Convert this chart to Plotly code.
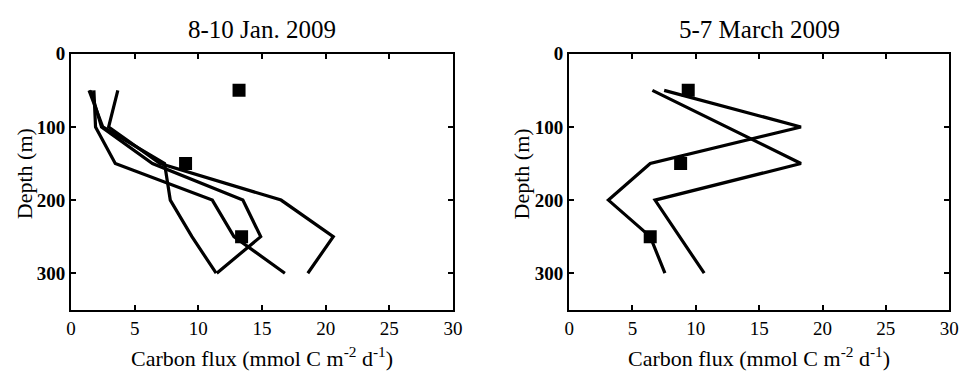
import plotly.graph_objects as go

depths = [50, 100, 150, 200, 250, 300]

# Panel 1: 8-10 Jan. 2009 (model profiles)
jan_line1 = [1.42, 2.5, 7.35, 7.8, 9.5, 11.4]
jan_line2 = [1.55, 2.4, 6.4, 13.5, 14.9, 11.45]
jan_line3 = [1.8, 1.93, 3.48, 11.1, 12.8, 16.8]
jan_line4 = [3.68, 2.96, 7.0, 16.5, 20.6, 18.6]
jan_obs_depth = [50, 150, 250]
jan_obs_flux = [13.2, 9.0, 13.4]

# Panel 2: 5-7 March 2009
mar_line1 = [7.5, 18.3, 6.4, 3.1, 6.4, 7.56]
mar_line2 = [6.57, 12.4, 18.3, 6.78, 8.7, 10.66]
mar_obs_depth = [50, 150, 250]
mar_obs_flux = [9.4, 8.8, 6.4]

titles = ["8-10 Jan. 2009", "5-7 March 2009"]
xlabel = "Carbon flux (mmol C m<sup>-2</sup> d<sup>-1</sup>)"
ylabel = "Depth (m)"
xticks = [0, 5, 10, 15, 20, 25, 30]
yticks = [0, 100, 200, 300]

W, H = 971, 375
SERIF = "Liberation Serif, Times New Roman, serif"
line_style = dict(color="black", width=3.2)
marker_style = dict(symbol="square", size=13, color="black")

fig = go.Figure()
for prof in [jan_line1, jan_line2, jan_line3, jan_line4]:
    fig.add_trace(go.Scatter(x=prof, y=depths, mode="lines", line=line_style,
                             xaxis="x", yaxis="y", showlegend=False))
fig.add_trace(go.Scatter(x=jan_obs_flux, y=jan_obs_depth, mode="markers",
                         marker=marker_style, xaxis="x", yaxis="y", showlegend=False))
for prof in [mar_line1, mar_line2]:
    fig.add_trace(go.Scatter(x=prof, y=depths, mode="lines", line=line_style,
                             xaxis="x2", yaxis="y2", showlegend=False))
fig.add_trace(go.Scatter(x=mar_obs_flux, y=mar_obs_depth, mode="markers",
                         marker=marker_style, xaxis="x2", yaxis="y2", showlegend=False))

# pixel geometry
left_dom = [67 / W, 455 / W]
right_dom = [573 / W, 959 / W]
ydom = [1 - 308 / H, 1 - 45 / H]

common_x = dict(range=[0, 30], tickvals=xticks, ticks="inside", ticklen=5,
                tickwidth=1.5, tickcolor="black", showline=True, linecolor="black",
                linewidth=2, mirror="ticks", showgrid=False, zeroline=False,
                tickfont=dict(family=SERIF, size=19, color="black"))
common_y = dict(range=[350, 0], tickvals=yticks, ticks="inside", ticklen=5,
                tickwidth=1.5, tickcolor="black", showline=True, linecolor="black",
                linewidth=2, mirror="ticks", showgrid=False, zeroline=False,
                tickfont=dict(family=SERIF, size=19, color="black", weight="bold"))

fig.update_layout(
    width=W, height=H,
    margin=dict(l=0, r=0, t=0, b=0),
    paper_bgcolor="white", plot_bgcolor="white",
    xaxis=dict(domain=left_dom, anchor="y", **common_x),
    yaxis=dict(domain=ydom, anchor="x", **common_y),
    xaxis2=dict(domain=right_dom, anchor="y2", **common_x),
    yaxis2=dict(domain=ydom, anchor="x2", **common_y),
)

ann = []
centers = [(67 + 455) / 2, (573 + 959) / 2]
ylab_x = [20, 525]
for i in range(2):
    ann.append(dict(text=titles[i], x=centers[i] / W, y=1 - 20 / H, xref="paper", yref="paper",
                    showarrow=False, xanchor="center", yanchor="middle",
                    font=dict(family=SERIF, size=25, color="black")))
    ann.append(dict(text=xlabel, x=centers[i] / W, y=1 - 357 / H, xref="paper", yref="paper",
                    showarrow=False, xanchor="center", yanchor="middle",
                    font=dict(family=SERIF, size=22, color="black")))
    ann.append(dict(text=ylabel, x=ylab_x[i] / W, y=1 - 168 / H, xref="paper", yref="paper",
                    showarrow=False, xanchor="center", yanchor="middle", textangle=-90,
                    font=dict(family=SERIF, size=22, color="black")))
fig.update_layout(annotations=ann)

fig.write_html("out.html")
